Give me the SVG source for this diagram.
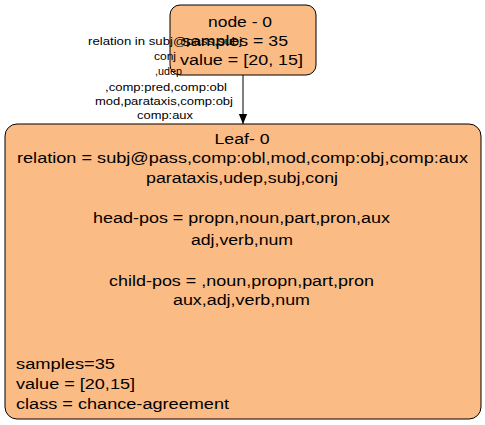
<svg xmlns="http://www.w3.org/2000/svg" width="485" height="425" viewBox="0 0 485 425">
<defs>
<style>
.box{fill:#fbbb84;stroke:#000;stroke-width:1}
.t{font-family:"Liberation Sans",Arial,sans-serif;font-size:15.5px;fill:#000}
.m{text-anchor:middle}
.e{font-family:"Liberation Sans",Arial,sans-serif;font-size:10.5px;fill:#000;text-anchor:middle}
</style>
<marker id="ah" markerWidth="10" markerHeight="12" refX="12" refY="5" orient="auto" markerUnits="userSpaceOnUse" viewBox="0 0 12 10">
<path d="M0,0 L12,5 L0,10 Z" fill="#000"/>
</marker>
</defs>
<g id="node0">
<rect class="box" x="170" y="5" width="146" height="70" rx="10" ry="10"/>
<text class="t m" x="240" y="27" textLength="64" lengthAdjust="spacingAndGlyphs">node - 0</text>
<text class="t" x="182" y="46" textLength="106" lengthAdjust="spacingAndGlyphs">samples = 35</text>
<text class="t m" x="241.5" y="65" textLength="123" lengthAdjust="spacingAndGlyphs">value = [20, 15]</text>
</g>
<g id="leaf0">
<rect class="box" x="5" y="124" width="476" height="295" rx="12" ry="12"/>
<text class="t m" x="242" y="144" textLength="55" lengthAdjust="spacingAndGlyphs">Leaf- 0</text>
<text class="t m" x="242.5" y="163" textLength="451" lengthAdjust="spacingAndGlyphs">relation = subj@pass,comp:obl,mod,comp:obj,comp:aux</text>
<text class="t m" x="242" y="183" textLength="192" lengthAdjust="spacingAndGlyphs">parataxis,udep,subj,conj</text>
<text class="t m" x="241.5" y="223" textLength="297" lengthAdjust="spacingAndGlyphs">head-pos = propn,noun,part,pron,aux</text>
<text class="t m" x="242" y="245" textLength="102" lengthAdjust="spacingAndGlyphs">adj,verb,num</text>
<text class="t m" x="241.5" y="286" textLength="265" lengthAdjust="spacingAndGlyphs">child-pos = ,noun,propn,part,pron</text>
<text class="t m" x="241.5" y="305" textLength="137" lengthAdjust="spacingAndGlyphs">aux,adj,verb,num</text>
<text class="t" x="16" y="369" textLength="99" lengthAdjust="spacingAndGlyphs">samples=35</text>
<text class="t" x="16" y="389" textLength="119" lengthAdjust="spacingAndGlyphs">value = [20,15]</text>
<text class="t" x="16" y="409" textLength="213" lengthAdjust="spacingAndGlyphs">class = chance-agreement</text>
</g>
<g id="connectors">
<line x1="243" y1="75" x2="243" y2="124" stroke="#000" stroke-width="1" marker-end="url(#ah)"/>
<text class="e" x="165" y="45" textLength="154" lengthAdjust="spacingAndGlyphs">relation in subj@pass,subj</text>
<text class="e" x="165" y="60" textLength="22" lengthAdjust="spacingAndGlyphs">conj</text>
<text class="e" x="168.5" y="75" textLength="27" lengthAdjust="spacingAndGlyphs">,udep</text>
<text class="e" x="166" y="91" textLength="122" lengthAdjust="spacingAndGlyphs">,comp:pred,comp:obl</text>
<text class="e" x="164" y="105" textLength="138" lengthAdjust="spacingAndGlyphs">mod,parataxis,comp:obj</text>
<text class="e" x="165" y="119" textLength="56" lengthAdjust="spacingAndGlyphs">comp:aux</text>
</g>
</svg>
